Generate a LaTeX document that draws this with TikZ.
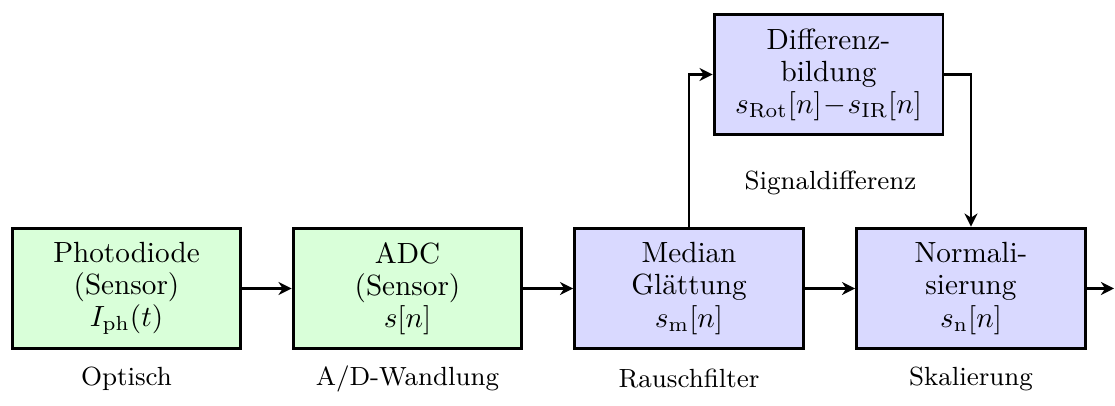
\documentclass[tikz,border=0pt]{standalone}
\usetikzlibrary{arrows.meta}

\tikzset{
  blk/.style={draw, line width=1pt, minimum width=78.4pt, minimum height=41.4pt,
              inner sep=1pt, align=center, font=\fontsize{10}{11}\selectfont},
  sensor/.style={blk, fill=green!15},
  proc/.style={blk, fill=blue!15},
  lbl/.style={font=\small, inner sep=0pt},
  flow/.style={-{Stealth[length=4.5pt,width=4.5pt]}, line width=0.85pt}
}

\begin{document}
\begin{tikzpicture}[x=0.3425pt, y=-0.3425pt]
  \useasboundingbox (0,0) rectangle (1115,406);

  % signal chain
  \node[sensor] (pd)   at (126.5,288.5) {Photodiode\\(Sensor)\\$I_{\mathrm{ph}}(t)$};
  \node[sensor] (adc)  at (407.5,288.5) {ADC\\(Sensor)\\$s[n]$};
  \node[proc]   (med)  at (689,288.5)   {Median\\Glättung\\$s_{\mathrm{m}}[n]$};
  \node[proc]   (norm) at (971,288.5)   {Normali-\\sierung\\$s_{\mathrm{n}}[n]$};
  \node[proc]   (diff) at (828.5,74.5)  {Differenz-\\bildung\\$s_{\mathrm{Rot}}[n]\!-\!s_{\mathrm{IR}}[n]$};
  \coordinate (out) at (1114,288.5);

  % stage labels
  \node[lbl] (l1) at (126.5,379) {Optisch};
  \node[lbl] (l2) at (407.5,379) {A/D-Wandlung};
  \node[lbl] (l3) at (689,379)   {Rauschfilter};
  \node[lbl] (l4) at (971,379)   {Skalierung};
  \node[lbl] (l5) at (830.5,183) {Signaldifferenz};

  % connectors
  \draw[flow] (pd) -- (adc);
  \draw[flow] (adc) -- (med);
  \draw[flow] (med) -- (norm);
  \draw[flow] (norm) -- (out);
  \draw[flow] (med.north) |- (diff.west);
  \draw[flow] (diff.east) -| (norm.north);
\end{tikzpicture}
\end{document}
